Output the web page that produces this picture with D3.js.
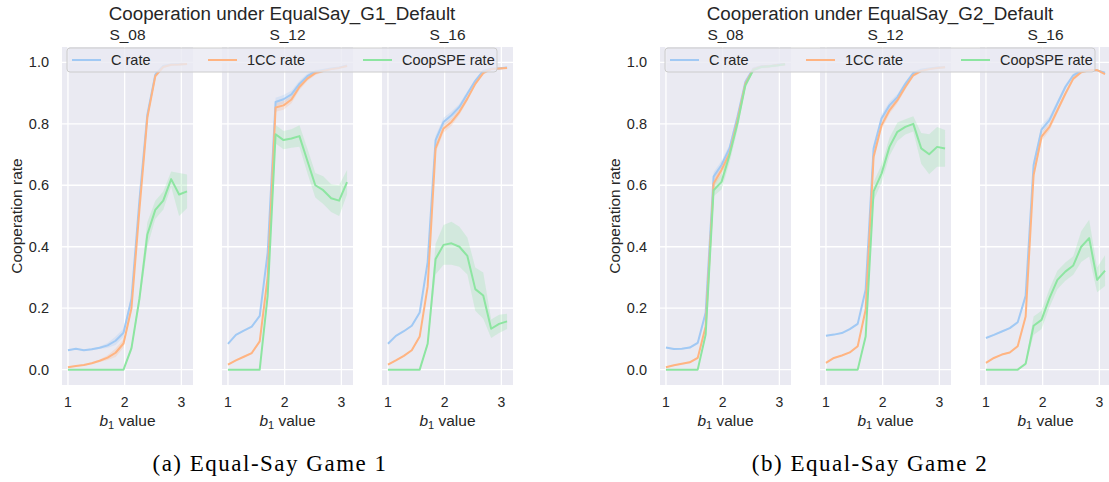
<!DOCTYPE html>
<html>
<head>
<meta charset="utf-8">
<script src="https://cdn.jsdelivr.net/npm/d3@7"></script>
<style>
  body { margin: 0; background: #fff; }
  text { font-family: "Liberation Sans", Arial, sans-serif; fill: #262626; }
</style>
</head>
<body>
<script>
// b1 values on the x axis
var b1Values = [1.00, 1.14, 1.28, 1.42, 1.56, 1.70, 1.84, 1.98, 2.12, 2.26, 2.40, 2.54, 2.68, 2.82, 2.96, 3.10];
var xTicks = [1, 2, 3];
var yTicks = [0, 0.2, 0.4, 0.6, 0.8, 1.0];
var panelNames = ["S_08", "S_12", "S_16"];
var seriesNames = ["C rate", "1CC rate", "CoopSPE rate"];
var figTitles = ["Cooperation under EqualSay_G1_Default", "Cooperation under EqualSay_G2_Default"];
var captions = ["(a) Equal-Say Game 1", "(b) Equal-Say Game 2"];

// Game 1
var g1_s08_C   = [0.063, 0.068, 0.063, 0.066, 0.071, 0.079, 0.094, 0.12, 0.23, 0.55, 0.83, 0.96, 0.988, 0.993, 0.994, 0.995];
var g1_s08_1CC = [0.008, 0.012, 0.015, 0.021, 0.029, 0.039, 0.055, 0.085, 0.2, 0.52, 0.82, 0.955, 0.985, 0.992, 0.993, 0.995];
var g1_s08_SPE = [0, 0, 0, 0, 0, 0, 0, 0, 0.07, 0.23, 0.44, 0.52, 0.55, 0.62, 0.57, 0.58];
var g1_s08_SPEci = [0, 0, 0, 0, 0, 0, 0, 0, 0.01, 0.02, 0.04, 0.03, 0.03, 0.025, 0.07, 0.055];

var g1_s12_C   = [0.084, 0.113, 0.127, 0.14, 0.175, 0.38, 0.871, 0.88, 0.896, 0.93, 0.955, 0.97, 0.975, 0.98, 0.983, 0.99];
var g1_s12_1CC = [0.016, 0.03, 0.042, 0.054, 0.092, 0.3, 0.853, 0.86, 0.879, 0.92, 0.947, 0.965, 0.972, 0.978, 0.982, 0.988];
var g1_s12_SPE = [0, 0, 0, 0, 0, 0.24, 0.766, 0.747, 0.752, 0.76, 0.68, 0.60, 0.584, 0.558, 0.55, 0.61];
var g1_s12_SPEci = [0, 0, 0, 0, 0, 0.02, 0.03, 0.03, 0.03, 0.035, 0.04, 0.04, 0.045, 0.045, 0.05, 0.04];

var g1_s16_C   = [0.084, 0.11, 0.125, 0.143, 0.186, 0.35, 0.747, 0.806, 0.828, 0.855, 0.898, 0.94, 0.972, 0.98, 0.98, 0.983];
var g1_s16_1CC = [0.016, 0.03, 0.045, 0.063, 0.108, 0.27, 0.72, 0.785, 0.806, 0.839, 0.882, 0.93, 0.965, 0.978, 0.98, 0.982];
var g1_s16_SPE = [0, 0, 0, 0, 0, 0.084, 0.36, 0.406, 0.411, 0.40, 0.37, 0.262, 0.241, 0.133, 0.149, 0.157];
var g1_s16_SPEci = [0, 0, 0, 0, 0, 0.01, 0.05, 0.065, 0.07, 0.065, 0.06, 0.07, 0.075, 0.03, 0.03, 0.025];

// Game 2
var g2_s08_C   = [0.072, 0.067, 0.068, 0.072, 0.087, 0.185, 0.628, 0.666, 0.72, 0.822, 0.936, 0.979, 0.987, 0.987, 0.992, 0.995];
var g2_s08_1CC = [0.008, 0.014, 0.019, 0.024, 0.038, 0.14, 0.606, 0.65, 0.703, 0.81, 0.93, 0.977, 0.986, 0.987, 0.991, 0.994];
var g2_s08_SPE = [0, 0, 0, 0, 0, 0.114, 0.584, 0.611, 0.698, 0.80, 0.925, 0.975, 0.985, 0.987, 0.99, 0.994];
var g2_s08_SPEci = [0, 0, 0, 0, 0, 0.01, 0.02, 0.025, 0.025, 0.02, 0.01, 0.005, 0.005, 0.005, 0.004, 0.003];

var g2_s12_C   = [0.11, 0.114, 0.119, 0.132, 0.149, 0.26, 0.72, 0.817, 0.86, 0.887, 0.93, 0.965, 0.976, 0.98, 0.983, 0.984];
var g2_s12_1CC = [0.022, 0.038, 0.046, 0.056, 0.076, 0.195, 0.693, 0.795, 0.844, 0.877, 0.92, 0.958, 0.972, 0.978, 0.982, 0.984];
var g2_s12_SPE = [0, 0, 0, 0, 0, 0.108, 0.58, 0.638, 0.725, 0.774, 0.79, 0.80, 0.72, 0.701, 0.725, 0.72];
var g2_s12_SPEci = [0, 0, 0, 0, 0, 0.01, 0.03, 0.03, 0.03, 0.03, 0.025, 0.025, 0.05, 0.065, 0.065, 0.06];

var g2_s16_C   = [0.103, 0.113, 0.124, 0.135, 0.154, 0.24, 0.666, 0.781, 0.812, 0.866, 0.92, 0.958, 0.972, 0.974, 0.974, 0.966];
var g2_s16_1CC = [0.022, 0.038, 0.049, 0.056, 0.076, 0.173, 0.633, 0.758, 0.79, 0.844, 0.898, 0.947, 0.968, 0.974, 0.975, 0.962];
var g2_s16_SPE = [0, 0, 0, 0, 0, 0.019, 0.143, 0.162, 0.233, 0.292, 0.319, 0.339, 0.40, 0.428, 0.292, 0.322];
var g2_s16_SPEci = [0, 0, 0, 0, 0, 0.005, 0.03, 0.03, 0.03, 0.03, 0.03, 0.03, 0.05, 0.06, 0.04, 0.05];

// small band for C / 1CC rates
var rateCI = [0.002, 0.002, 0.002, 0.003, 0.004, 0.008, 0.014, 0.014, 0.012, 0.01, 0.008, 0.006, 0.004, 0.003, 0.003, 0.003];

var figures = [
  [[g1_s08_C, g1_s08_1CC, g1_s08_SPE, g1_s08_SPEci],
   [g1_s12_C, g1_s12_1CC, g1_s12_SPE, g1_s12_SPEci],
   [g1_s16_C, g1_s16_1CC, g1_s16_SPE, g1_s16_SPEci]],
  [[g2_s08_C, g2_s08_1CC, g2_s08_SPE, g2_s08_SPEci],
   [g2_s12_C, g2_s12_1CC, g2_s12_SPE, g2_s12_SPEci],
   [g2_s16_C, g2_s16_1CC, g2_s16_SPE, g2_s16_SPEci]]
];

var width = 1109, height = 482;
var colors = ["#a1c9f4", "#ffb482", "#8de5a1"];
var panelW = 131, panelStep = 160, figStep = 598;
var plotTop = 47, plotBottom = 385;

var svg = d3.select("body").append("svg")
    .attr("width", width)
    .attr("height", height);

var x = d3.scaleLinear().domain([0.895, 3.205]).range([0, panelW]);
var y = d3.scaleLinear().domain([-0.05, 1.05]).range([plotBottom, plotTop]);

figures.forEach(function(fig, f) {
  var fx = 62 + f * figStep;

  fig.forEach(function(series, p) {
    var px = fx + p * panelStep;
    var g = svg.append("g").attr("transform", "translate(" + px + ",0)");

    g.append("rect")
      .attr("x", 0).attr("y", plotTop)
      .attr("width", panelW).attr("height", plotBottom - plotTop)
      .attr("fill", "#eaeaf2");

    g.selectAll(".ygrid").data(yTicks).enter().append("line")
      .attr("x1", 0).attr("x2", panelW)
      .attr("y1", function(d) { return y(d); })
      .attr("y2", function(d) { return y(d); })
      .attr("stroke", "#fff").attr("stroke-width", 1.3);
    g.selectAll(".xgrid").data(xTicks).enter().append("line")
      .attr("y1", plotTop).attr("y2", plotBottom)
      .attr("x1", function(d) { return x(d); })
      .attr("x2", function(d) { return x(d); })
      .attr("stroke", "#fff").attr("stroke-width", 1.3);

    var cis = [rateCI, rateCI, series[3]];
    [0, 1, 2].forEach(function(s) {
      var vals = series[s], ci = cis[s];
      var area = d3.area()
        .x(function(d, i) { return x(b1Values[i]); })
        .y0(function(d, i) { return y(d - ci[i]); })
        .y1(function(d, i) { return y(d + ci[i]); });
      g.append("path").attr("d", area(vals))
        .attr("fill", colors[s]).attr("fill-opacity", 0.25);
    });
    [0, 1, 2].forEach(function(s) {
      var line = d3.line()
        .x(function(d, i) { return x(b1Values[i]); })
        .y(function(d) { return y(d); });
      g.append("path").attr("d", line(series[s]))
        .attr("fill", "none").attr("stroke", colors[s])
        .attr("stroke-width", 2).attr("stroke-linejoin", "round");
    });

    // x ticks
    g.selectAll(".xt").data(xTicks).enter().append("text")
      .attr("x", function(d) { return x(d); }).attr("y", 407)
      .attr("text-anchor", "middle").attr("font-size", 14)
      .text(function(d) { return d; });

    var xl = g.append("text").attr("x", panelW / 2).attr("y", 426)
      .attr("text-anchor", "middle").attr("font-size", 15.5);
    xl.append("tspan").attr("font-style", "italic").text("b");
    xl.append("tspan").attr("font-size", 11).attr("dy", 3).text("1");
    xl.append("tspan").attr("dy", -3).text(" value");

    g.append("text").attr("x", panelW / 2).attr("y", 40)
      .attr("text-anchor", "middle").attr("font-size", 15.5)
      .text(panelNames[p]);

    if (p === 0) {
      g.selectAll(".yt").data(yTicks).enter().append("text")
        .attr("x", -13).attr("y", function(d) { return y(d) + 5; })
        .attr("text-anchor", "end").attr("font-size", 14.5)
        .text(function(d) { return d.toFixed(1); });
      g.append("text")
        .attr("transform", "translate(-40," + ((plotTop + plotBottom) / 2) + ") rotate(-90)")
        .attr("text-anchor", "middle").attr("font-size", 15.5)
        .text("Cooperation rate");
    }
  });

  // figure title
  svg.append("text")
    .attr("x", fx + 220).attr("y", 20)
    .attr("text-anchor", "middle").attr("font-size", 18.8)
    .text(figTitles[f]);

  // legend
  var lg = svg.append("g").attr("transform", "translate(" + (fx + 5) + ",48)");
  lg.append("rect")
    .attr("x", 0).attr("y", 0).attr("width", 430).attr("height", 24)
    .attr("rx", 3)
    .attr("fill", "#eaeaf2").attr("fill-opacity", 0.8)
    .attr("stroke", "#cccccc").attr("stroke-width", 1);
  var entryX = [5, 141, 296];
  seriesNames.forEach(function(name, s) {
    lg.append("line")
      .attr("x1", entryX[s]).attr("x2", entryX[s] + 29)
      .attr("y1", 12).attr("y2", 12)
      .attr("stroke", colors[s]).attr("stroke-width", 2);
    lg.append("text")
      .attr("x", entryX[s] + 39).attr("y", 17)
      .attr("font-size", 14.5)
      .text(name);
  });

  // caption
  svg.append("text")
    .attr("x", 270 + f * 600).attr("y", 471)
    .attr("text-anchor", "middle")
    .style("font-family", "'Liberation Serif', 'DejaVu Serif', serif")
    .attr("font-size", 23)
    .attr("letter-spacing", 1.5)
    .style("fill", "#000")
    .text(captions[f]);
});
</script>
</body>
</html>
